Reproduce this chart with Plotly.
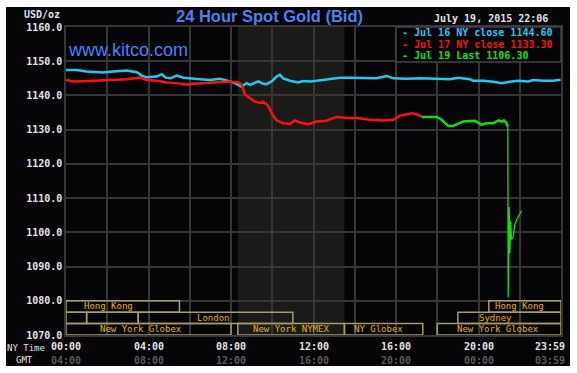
import plotly.graph_objects as go

# ---------------- data ----------------
cyan_t = [0, 0.52, 1.0, 1.81, 2.29, 2.94, 3.43, 3.67, 3.91, 4.40, 4.64, 4.83, 5.07, 5.36, 5.69,
          6.17, 6.5, 6.98, 7.46, 7.95, 8.27, 8.5, 8.76, 8.92, 9.16, 9.32, 9.56, 9.72, 9.97,
          10.21, 10.37, 10.53, 10.86, 11.26, 11.5, 11.83, 12.15, 12.8, 13.28, 13.77, 14.41,
          15.06, 15.54, 15.87, 16.51, 17.16, 17.97, 18.61, 19.02, 19.58, 19.74, 20.23, 20.71,
          21.12, 21.52, 21.92, 22.41, 22.65, 23.14, 23.62, 23.98]
cyan_v = [1147.4, 1147.4, 1147.0, 1146.7, 1147.0, 1147.3, 1146.8, 1145.8, 1145.3, 1145.5, 1146.2,
          1145.2, 1145.0, 1145.8, 1145.2, 1144.8, 1144.7, 1144.5, 1144.9, 1144.1, 1143.4, 1142.6,
          1143.6, 1143.1, 1143.8, 1144.1, 1143.4, 1143.3, 1144.1, 1145.5, 1146.0, 1145.0, 1144.3,
          1143.8, 1144.2, 1144.1, 1144.3, 1144.75, 1145.2, 1145.2, 1145.0, 1145.0, 1145.7, 1145.0,
          1144.9, 1145.0, 1144.9, 1144.75, 1145.2, 1144.75, 1144.3, 1144.3, 1144.0, 1143.6, 1144.0,
          1144.3, 1144.1, 1144.5, 1144.3, 1144.3, 1144.6]

red_t = [0, 0.36, 1.32, 2.13, 2.94, 3.59, 3.91, 4.4, 4.88, 5.36, 5.85, 6.17, 6.66, 7.14, 7.63,
         7.95, 8.35, 8.52, 8.68, 8.92, 9.16, 9.4, 9.56, 9.8, 9.97, 10.21, 10.53, 10.86, 11.1,
         11.34, 11.75, 12.15, 12.64, 13.12, 13.6, 14.09, 14.74, 15.38, 15.87, 16.19, 16.51,
         16.76, 17.0, 17.24]
red_v = [1144.5, 1144.1, 1144.3, 1144.5, 1144.75, 1145.2, 1144.5, 1144.3, 1143.8, 1143.6, 1143.1,
         1143.4, 1143.6, 1143.9, 1144.1, 1144.1, 1143.8, 1143.1, 1140.2, 1139.2, 1138.2, 1137.8,
         1138.2, 1137.0, 1134.8, 1132.7, 1131.9, 1131.7, 1132.7, 1132.1, 1131.6, 1132.4, 1132.6,
         1133.8, 1133.4, 1133.4, 1132.9, 1132.7, 1132.9, 1134.1, 1134.6, 1134.8, 1134.5, 1133.8]

green_t = [17.24, 17.97, 18.21, 18.37, 18.53, 18.77, 19.02, 19.26, 19.83, 19.99, 20.15, 20.39,
           20.71, 20.88, 21.0, 21.12, 21.23, 21.36, 21.42, 21.44, 21.49, 21.52, 21.56, 21.6,
           21.68, 21.76, 21.89, 22.09]
green_v = [1133.7, 1133.7, 1132.9, 1132.1, 1131.1, 1131.1, 1131.7, 1132.4, 1132.6, 1131.9, 1131.4,
           1131.9, 1131.9, 1132.4, 1132.7, 1132.3, 1132.7, 1131.9, 1130.9, 1081.0, 1107.4, 1094.0,
           1103.2, 1097.9, 1098.6, 1102.3, 1104.2, 1106.3]
drop_index = 18  # last point before the plunge

legend_texts = ["- Jul 16 NY close 1144.60", "- Jul 17 NY close 1133.30", "- Jul 19 Last 1106.30"]

y_ticks = [1070, 1080, 1090, 1100, 1110, 1120, 1130, 1140, 1150, 1160]
ny_hours = [0, 4, 8, 12, 16, 20]
ny_labels = ["00:00", "04:00", "08:00", "12:00", "16:00", "20:00", "23:59"]
gmt_labels = ["04:00", "08:00", "12:00", "16:00", "20:00", "00:00", "03:59"]

# market sessions: (row, start hour, end hour, label, label centre hour)
sessions_row = [0, 0, 1, 1, 1, 1, 2, 2, 2, 2]
sessions_start = [0, 20.5, 0, 1, 3.5, 19, 0, 8.33, 13.5, 18]
sessions_end = [5.5, 24, 1, 3.5, 11, 24, 8.0, 13.5, 17.3, 24]
sessions_label = ["Hong Kong", "Hong Kong", "", "", "London", "Sydney",
                  "New York Globex", "New York NYMEX", "NY Globex", "New York Globex"]
sessions_label_x = [2.08, 21.98, 0, 0, 7.13, 20.82, 3.64, 10.9, 15.17, 20.94]
row_bounds = [(1076.67, 1080), (1073.33, 1076.67), (1070, 1073.33)]

nymex_start, nymex_end = 8.333, 13.5

# ---------------- figure ----------------
W, H = 577, 373
L, R, T, B = 66, 16, 27, 38
pw, ph = W - L - R, H - T - B

def px_x(x):
    return (x - L) / pw

def px_y(y):
    return (H - B - y) / ph

MONO = "DejaVu Sans Mono"
GRID = "#363636"
TXT = "#e2e2e2"

def b(s):
    return f"<b>{s}</b>"

fig = go.Figure()

fig.add_trace(go.Scatter(x=cyan_t, y=cyan_v, mode="lines",
                         line=dict(color="#22c8f0", width=2.5), showlegend=False))
fig.add_trace(go.Scatter(x=red_t, y=red_v, mode="lines",
                         line=dict(color="#ff1010", width=2.5), showlegend=False))
fig.add_trace(go.Scatter(x=green_t[:drop_index + 1], y=green_v[:drop_index + 1], mode="lines",
                         line=dict(color="#10e010", width=2.5), showlegend=False))
fig.add_trace(go.Scatter(x=green_t[drop_index:], y=green_v[drop_index:], mode="lines",
                         line=dict(color="#10e010", width=1.3), showlegend=False))

shapes = []
# black panel with white border
shapes.append(dict(type="rect", xref="paper", yref="paper",
                   x0=px_x(6), x1=px_x(570), y0=px_y(366), y1=px_y(7),
                   fillcolor="#050507", line=dict(width=0), layer="below"))
# NYMEX shading
shapes.append(dict(type="rect", xref="x", yref="paper", x0=nymex_start, x1=nymex_end,
                   y0=0, y1=1, fillcolor="#1a1b19", line=dict(width=0), layer="below"))

annotations = []
for r, s, e, lab, lx in zip(sessions_row, sessions_start, sessions_end, sessions_label, sessions_label_x):
    y0, y1 = row_bounds[r]
    shapes.append(dict(type="rect", xref="x", yref="y", x0=s, x1=e, y0=y0, y1=y1,
                       line=dict(color="#a49c68", width=1.5), fillcolor="rgba(0,0,0,0)",
                       layer="above"))
    if lab:
        annotations.append(dict(x=lx, y=(y0 + y1) / 2, xref="x", yref="y", text=lab,
                                showarrow=False, xanchor="center", yanchor="middle",
                                font=dict(family=MONO, size=9, color="#e8b400")))

# legend box
shapes.append(dict(type="rect", xref="paper", yref="paper",
                   x0=px_x(396), x1=px_x(561), y0=px_y(62), y1=px_y(27),
                   fillcolor="#050507", line=dict(color="#444444", width=1.5), layer="above"))
leg_colors = ["#22c8f0", "#ff1010", "#10e010"]
for i, (txt, c) in enumerate(zip(legend_texts, leg_colors)):
    annotations.append(dict(x=px_x(400), y=px_y(33 + 11 * i), xref="paper", yref="paper",
                            text=b(txt), showarrow=False, xanchor="left", yanchor="middle",
                            font=dict(family=MONO, size=10, color=c)))

# titles / header texts
annotations.append(dict(x=px_x(269), y=px_y(16), xref="paper", yref="paper",
                        text="<b>24 Hour Spot Gold (Bid)</b>", showarrow=False,
                        xanchor="center", yanchor="middle",
                        font=dict(family="Liberation Sans", size=16.5, color="#4f7ff5")))
annotations.append(dict(x=px_x(66), y=px_y(50), xref="paper", yref="paper",
                        text="www.kitco.com", showarrow=False, xanchor="left", yanchor="middle",
                        font=dict(family="Liberation Sans", size=18, color="#4f7ff5")))
annotations.append(dict(x=px_x(491), y=px_y(19), xref="paper", yref="paper",
                        text=b("July 19, 2015 22:06"), showarrow=False, xanchor="center",
                        yanchor="middle", font=dict(family=MONO, size=10, color=TXT)))
annotations.append(dict(x=px_x(62), y=px_y(14), xref="paper", yref="paper",
                        text=b("USD/oz"), showarrow=False, xanchor="right", yanchor="middle",
                        font=dict(family=MONO, size=10, color=TXT)))

# x axis labels (two rows)
annotations.append(dict(x=px_x(47), y=px_y(348), xref="paper", yref="paper", text="NY Time",
                        showarrow=False, xanchor="right", yanchor="middle",
                        font=dict(family=MONO, size=9, color=TXT)))
annotations.append(dict(x=px_x(24), y=px_y(360), xref="paper", yref="paper", text="GMT",
                        showarrow=False, xanchor="center", yanchor="middle",
                        font=dict(family=MONO, size=9, color=TXT)))
for h, nl, gl in zip(ny_hours, ny_labels, gmt_labels):
    annotations.append(dict(x=h, y=px_y(347), xref="x", yref="paper", text=b(nl), showarrow=False,
                            xanchor="center", yanchor="middle",
                            font=dict(family=MONO, size=10, color=TXT)))
    annotations.append(dict(x=h, y=px_y(360), xref="x", yref="paper", text=b(gl), showarrow=False,
                            xanchor="center", yanchor="middle",
                            font=dict(family=MONO, size=10, color="#5a5a5a")))
annotations.append(dict(x=px_x(567), y=px_y(347), xref="paper", yref="paper", text=b(ny_labels[-1]),
                        showarrow=False, xanchor="right", yanchor="middle",
                        font=dict(family=MONO, size=10, color=TXT)))
annotations.append(dict(x=px_x(567), y=px_y(360), xref="paper", yref="paper", text=b(gmt_labels[-1]),
                        showarrow=False, xanchor="right", yanchor="middle",
                        font=dict(family=MONO, size=10, color="#5a5a5a")))

fig.update_layout(
    width=W, height=H,
    margin=dict(l=L, r=R, t=T, b=B, pad=0),
    paper_bgcolor="white",
    plot_bgcolor="#050507",
    shapes=shapes,
    annotations=annotations,
    showlegend=False,
)
fig.update_xaxes(range=[0, 24], dtick=2, tick0=0, showgrid=True, gridcolor=GRID, gridwidth=1.5,
                 showticklabels=False, zeroline=False, showline=True, linecolor=GRID,
                 linewidth=1.5, mirror=True, ticks="")
fig.update_yaxes(range=[1070, 1160], tickvals=y_ticks, ticktext=[b(f"{v:.1f}") for v in y_ticks],
                 showgrid=True, gridcolor=GRID, gridwidth=1.5, zeroline=False, showline=True,
                 linecolor=GRID, linewidth=1.5, mirror=True, ticks="",
                 tickfont=dict(family=MONO, size=10, color=TXT))

fig.write_html("out.html", config={"displayModeBar": False},
               post_script="document.body.style.margin='0';document.body.style.overflow='hidden';")
